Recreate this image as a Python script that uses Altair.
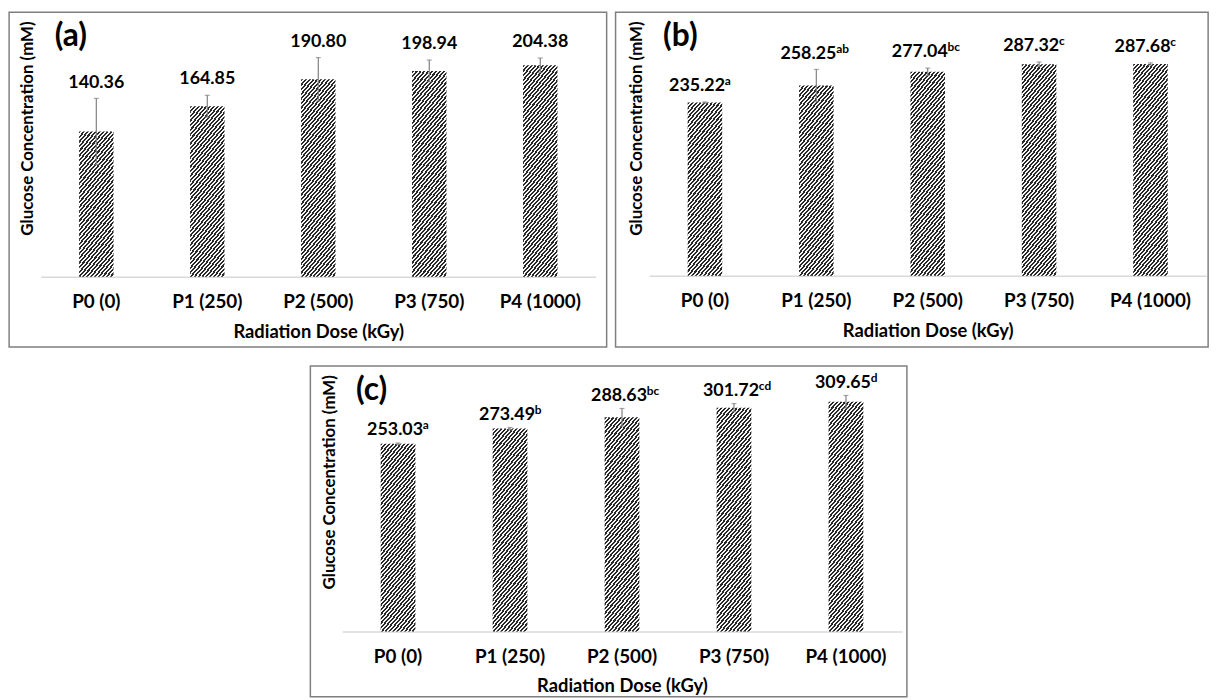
import math
import altair as alt
import pandas as pd

# ---------------- data ----------------
doses = ["P0 (0)", "P1 (250)", "P2 (500)", "P3 (750)", "P4 (1000)"]

glucose_a = [140.36, 164.85, 190.80, 198.94, 204.38]
error_a = [32.0, 10.5, 21.0, 10.5, 7.0]
letters_a = ["", "", "", "", ""]

glucose_b = [235.22, 258.25, 277.04, 287.32, 287.68]
error_b = [0.8, 22.0, 5.0, 3.0, 1.5]
letters_b = ["a", "ab", "bc", "c", "c"]

glucose_c = [253.03, 273.49, 288.63, 301.72, 309.65]
error_c = [1.0, 1.5, 12.0, 5.5, 8.5]
letters_c = ["a", "b", "bc", "cd", "d"]

panel_tags = ["(a)", "(b)", "(c)"]
y_max = [250, 350, 350]
x_title = "Radiation Dose (kGy)"
y_title = "Glucose Concentration (mM)"

# ---------------- style ----------------
FONT = "Lato"
PAD_INNER = 0.69
DARK = "#282828"
LIGHT = "#f6f6f6"
ERR_COLOR = "#808080"
FRAME_COLOR = "#7f7f7f"
VAL_SIZE = 18
NUM_HALF = 27  # half width of a "ddd.dd" label at VAL_SIZE


def hatch(value, ymax, width, height):
    """Diagonal '/' hatching built as a striped linear gradient."""
    w = width / 5 * (1 - PAD_INNER)
    h = max(value / ymax * height, 1)
    theta = math.radians(50)
    r = h / (w * math.tan(theta))
    s = (1 + r) / (1 + r * r)
    d = w * math.sin(theta) + h * math.cos(theta)
    n = max(1, round(d / 3.0))
    stops = []
    for k in range(n):
        a = k / n
        m = (k + 0.52) / n
        b = (k + 1) / n
        stops += [
            {"offset": round(a, 5), "color": DARK},
            {"offset": round(m, 5), "color": DARK},
            {"offset": round(m, 5), "color": LIGHT},
            {"offset": round(b, 5), "color": LIGHT},
        ]
    return {"gradient": "linear", "x1": 0, "y1": 0, "x2": s, "y2": s * r, "stops": stops}


def panel(vals, errs, letters, tag, ymax, width, height, frame, label_dy, num_dx):
    df = pd.DataFrame({
        "dose": doses, "glucose": vals, "err": errs,
        "num": [f"{v:.2f}" for v in vals], "sup": letters,
    })
    df["lo"] = df["glucose"] - df["err"]
    df["hi"] = df["glucose"] + df["err"]
    one = pd.DataFrame({"t": [tag]})

    x_axis = alt.Axis(
        title=x_title, labelAngle=0, ticks=False,
        domainColor="#d9d9d9", domainWidth=1.5,
        labelFont=FONT, labelFontSize=19, labelFontWeight="bold", labelColor="#000000",
        labelPadding=16,
        titleFont=FONT, titleFontSize=18.5, titleFontWeight="bold", titleColor="#000000",
        titlePadding=11,
    )
    y_axis = alt.Axis(
        title=y_title, labels=False, ticks=False, domain=False, grid=False,
        titleX=-13, titleY=111, titleAngle=270, titleAlign="center", titleBaseline="middle",
        titleFont=FONT, titleFontSize=17, titleFontWeight="bold", titleColor="#000000",
    )
    x_scale = alt.Scale(paddingInner=PAD_INNER, paddingOuter=PAD_INNER / 2)
    y_scale = alt.Scale(domain=[0, ymax], nice=False)

    def X():
        return alt.X("dose:N", sort=doses, scale=x_scale, axis=x_axis)

    def Y(field):
        return alt.Y(f"{field}:Q", scale=y_scale, axis=y_axis)

    layers = []
    for d, v in zip(doses, vals):
        layers.append(
            alt.Chart(df)
            .transform_filter(alt.datum.dose == d)
            .mark_bar(fill=hatch(v, ymax, width, height))
            .encode(x=X(), y=Y("glucose"))
        )
    layers.append(
        alt.Chart(df).mark_rule(color=ERR_COLOR, strokeWidth=1.2)
        .encode(x=X(), y=Y("lo"), y2="hi:Q")
    )
    for f in ["lo", "hi"]:
        layers.append(
            alt.Chart(df).mark_tick(color=ERR_COLOR, size=5, thickness=1.2)
            .encode(x=X(), y=Y(f))
        )
    layers.append(
        alt.Chart(df).mark_text(font=FONT, fontSize=VAL_SIZE, fontWeight="bold", color="#000000",
                                baseline="alphabetic", dy=label_dy, dx=num_dx)
        .encode(x=X(), y=Y("hi"), text="num:N")
    )
    if any(letters):
        layers.append(
            alt.Chart(df).mark_text(font=FONT, fontSize=12, fontWeight="bold", color="#000000",
                                    align="left", baseline="alphabetic",
                                    dy=label_dy - 6, dx=num_dx + NUM_HALF + 1)
            .encode(x=X(), y=Y("hi"), text="sup:N")
        )
    layers.append(
        alt.Chart(one).mark_text(font=FONT, fontSize=32, fontWeight="bold", color="#000000",
                                 align="left", baseline="top")
        .encode(x=alt.value(14), y=alt.value(3), text="t:N")
    )
    layers.append(
        alt.Chart(one).mark_rect(fill="#ffffff", fillOpacity=0, stroke=FRAME_COLOR, strokeWidth=1.5)
        .encode(x=alt.value(frame[0]), x2=alt.value(frame[1]),
                y=alt.value(frame[2]), y2=alt.value(frame[3]))
    )
    return alt.layer(*layers).properties(width=width, height=height)


pa = panel(glucose_a, error_a, letters_a, panel_tags[0], y_max[0], 560, 261,
           (-32, 571, -6, 332), -11, 0)
pb = panel(glucose_b, error_b, letters_b, panel_tags[1], y_max[1], 562, 260,
           (-34, 564, -6, 332), -11, -8)
pc = panel(glucose_c, error_c, letters_c, panel_tags[2], y_max[2], 565, 262,
           (-32, 570, -6, 328), -8, -3)

top = alt.hconcat(pa, pb, spacing=7)
chart = (
    alt.vconcat(top, pc, spacing=17, center=True)
    .properties(padding=0)
    .configure_view(stroke=None)
)

chart.save("out.html", embed_options={"renderer": "svg", "actions": False})
